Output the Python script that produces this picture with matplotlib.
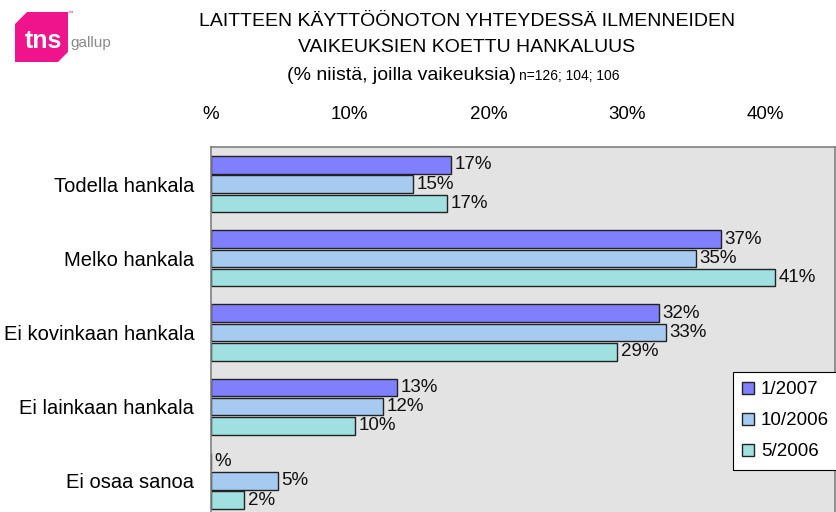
import matplotlib
matplotlib.use('Agg')
import matplotlib.pyplot as plt
from matplotlib.patches import Polygon
import numpy as np

plt.rcParams['font.family'] = ['Liberation Sans', 'DejaVu Sans']

categories = ['Todella hankala', 'Melko hankala', 'Ei kovinkaan hankala',
              'Ei lainkaan hankala', 'Ei osaa sanoa']
series = ['1/2007', '10/2006', '5/2006']
v_2007_1 = [17.3, 36.8, 32.3, 13.4, 0.0]
v_2006_10 = [14.6, 35.0, 32.8, 12.4, 4.8]
v_2006_5 = [17.0, 40.7, 29.3, 10.4, 2.4]
colors = ['#8080ff', '#a6caf0', '#a0e0e0']
xticks = [0, 10, 20, 30, 40]
xtick_labels = ['%', '10%', '20%', '30%', '40%']

W, H = 837, 512
fig = plt.figure(figsize=(W / 100, H / 100), dpi=100)
# plot area: left 211px, top 147px, right 835px, runs past the bottom edge
ax = fig.add_axes([211 / W, (H - 147 - 371) / H, 624 / W, 371 / H])
ax.set_facecolor('#e3e3e3')
for s in ax.spines.values():
    s.set_color('#808080')
    s.set_linewidth(1.2)

y = np.arange(len(categories))
pitch = 0.26
bh = 0.236
for i, (name, vals) in enumerate(zip(series, [v_2007_1, v_2006_10, v_2006_5])):
    pos = y + (i - 1) * pitch
    ax.barh(pos, vals, height=bh, color=colors[i], edgecolor='#222222',
            linewidth=1.0, label=name)
    for p, v in zip(pos, vals):
        txt = f'{round(v)}%' if round(v) != 0 else '%'
        ax.text(v + 0.25, p, txt, va='center', ha='left', fontsize=13.5,
                color='#111111')

ax.set_xlim(0, 45)
ax.set_ylim(len(categories) - 0.5, -0.5)
ax.set_yticks(y)
ax.set_yticklabels(categories, fontsize=14.5)
ax.tick_params(axis='y', length=0, pad=12)
ax.xaxis.tick_top()
ax.set_xticks(xticks)
ax.set_xticklabels(xtick_labels, fontsize=13.5)
ax.tick_params(axis='x', length=0, pad=17)

leg = ax.legend(loc='upper left', bbox_to_anchor=(733 / W, (H - 372) / H),
                bbox_transform=fig.transFigure, fontsize=13.5, frameon=True,
                fancybox=False, edgecolor='#000000', framealpha=1,
                handlelength=0.6, handleheight=0.6, handletextpad=0.4,
                labelspacing=0.75, borderpad=0.5, borderaxespad=0)
leg.get_frame().set_linewidth(0.8)

# title
fig.text(467 / W, 1 - 22 / H, 'LAITTEEN KÄYTTÖÖNOTON YHTEYDESSÄ ILMENNEIDEN',
         ha='center', va='center', fontsize=14)
fig.text(467 / W, 1 - 48 / H, 'VAIKEUKSIEN KOETTU HANKALUUS',
         ha='center', va='center', fontsize=14)
fig.text(516 / W, 1 - 75 / H, '(% niistä, joilla vaikeuksia)',
         ha='right', va='center', fontsize=14)
fig.text(519 / W, 1 - 76 / H, 'n=126; 104; 106',
         ha='left', va='center', fontsize=10)

# logo
logo = Polygon([(15, 24), (27, 12), (68, 12), (68, 52), (58, 62), (15, 62)],
               closed=True, facecolor='#f0148c', edgecolor='none')
logo.set_xy([(px / W, 1 - py / H) for px, py in logo.get_xy()])
logo.set_transform(fig.transFigure)
fig.patches.append(logo)
fig.text(43 / W, 1 - 41 / H, 'tns', ha='center', va='center', fontsize=18,
         color='white', fontweight='bold')
fig.text(70 / W, 1 - 43 / H, 'gallup', ha='left', va='center', fontsize=11,
         color='#8a8a8a')
fig.text(68 / W, 1 - 13 / H, '™', ha='left', va='center', fontsize=4,
         color='#f0148c')

fig.savefig('out.png', dpi=100)
